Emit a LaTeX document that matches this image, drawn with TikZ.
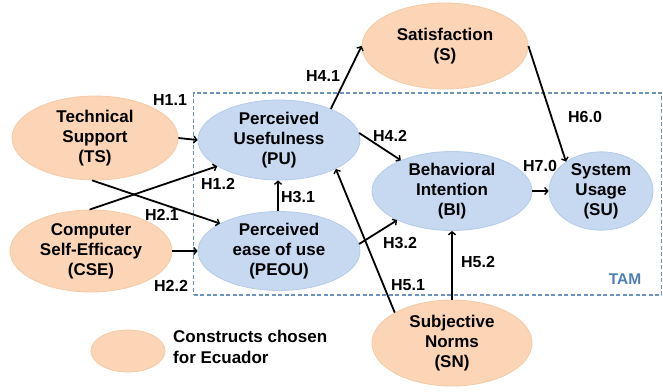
\documentclass[tikz,border=0pt]{standalone}
\usepackage{fontspec}
\setmainfont{Liberation Sans}
\usetikzlibrary{shapes.geometric,arrows.meta}
\definecolor{orangefill}{HTML}{FBD5B5}
\definecolor{orangeedge}{HTML}{F2CBA8}
\definecolor{bluefill}{HTML}{C6D9F1}
\definecolor{blueedge}{HTML}{B4CBE8}
\definecolor{tamblue}{HTML}{4F7FB8}
\definecolor{boxblue}{HTML}{6C92C2}
\tikzset{
  construct/.style={ellipse, inner sep=0pt, align=center,
    font=\fontsize{17}{20}\selectfont\bfseries, line width=0.8pt},
  orangenode/.style={construct, fill=orangefill, draw=orangeedge},
  bluenode/.style={construct, fill=bluefill, draw=blueedge},
  hlabel/.style={font=\fontsize{16}{18}\selectfont\bfseries, inner sep=0pt},
  conn/.style={line width=1.8pt, -{Straight Barb[length=3pt,width=7pt,line width=1.4pt]}}
}
\begin{document}
\begin{tikzpicture}[x=1pt,y=-1pt]
\useasboundingbox (0,0) rectangle (663,391);
\fill[white] (0,0) rectangle (663,391);
% TAM box
\node[draw=boxblue, dash pattern=on 4pt off 2.5pt, line width=1.1pt,
  inner sep=0pt, minimum width=468pt, minimum height=202pt] (tam) at (427.5,194) {};
\node[font=\fontsize{15.5}{18}\selectfont\bfseries, text=tamblue, inner sep=0pt] (tamlabel) at (625,279) {TAM};
% constructs
\node[orangenode, minimum width=166pt, minimum height=84pt] (TS) at (95,138) {Technical\\Support\\(TS)};
\node[orangenode, minimum width=162pt, minimum height=82pt] (CSE) at (91,251) {Computer\\Self-Efficacy\\(CSE)};
\node[bluenode, minimum width=162pt, minimum height=80pt] (PU) at (279,140) {Perceived\\Usefulness\\(PU)};
\node[bluenode, minimum width=162pt, minimum height=78pt] (PEOU) at (279,251) {Perceived\\ease of use\\(PEOU)};
\node[orangenode, minimum width=166pt, minimum height=86pt] (S) at (445,46) {Satisfaction\\(S)};
\node[bluenode, minimum width=160pt, minimum height=74pt] (BI) at (452,191) {Behavioral\\Intention\\(BI)};
\node[bluenode, minimum width=104pt, minimum height=68pt] (SU) at (601,191) {System\\Usage\\(SU)};
\node[orangenode, minimum width=160pt, minimum height=86pt] (SN) at (452,343) {Subjective\\Norms\\(SN)};
% legend
\node[orangenode, minimum width=74pt, minimum height=42pt] (legend) at (128,351) {};
\node[anchor=west, align=left, inner sep=0pt, font=\fontsize{17}{21}\selectfont\bfseries] (legendtext) at (173,347) {Constructs chosen\\for Ecuador};
% connectors
\draw[conn] (TS.east) -- (PU.west);
\draw[conn] (CSE.92) -- (PU.203);
\draw[conn] (TS.266) -- (PEOU.155);
\draw[conn] (CSE.east) -- (PEOU.west);
\draw[conn] ([xshift=-1pt]PEOU.north) -- ([xshift=-1pt]PU.south);
\draw[conn] (PEOU.5) -- (BI.208);
\draw[conn] (PU.5) -- (BI.149);
\draw[conn] (PU.31) -- (S.west);
\draw[conn] (S.east) -- (SU.140);
\draw[conn] (BI.east) -- (SU.west);
\draw[conn] (SN.152) -- (PU.-27);
\draw[conn] (SN.north) -- (BI.south);
% labels
\node[hlabel] (h11) at (170,100) {H1.1};
\node[hlabel] (h12) at (218,184) {H1.2};
\node[hlabel] (h21) at (162,215) {H2.1};
\node[hlabel] (h22) at (171,286) {H2.2};
\node[hlabel] (h31) at (298,197) {H3.1};
\node[hlabel] (h32) at (400,243) {H3.2};
\node[hlabel] (h41) at (323,76) {H4.1};
\node[hlabel] (h42) at (390,136) {H4.2};
\node[hlabel] (h51) at (408,285) {H5.1};
\node[hlabel] (h52) at (478,262) {H5.2};
\node[hlabel] (h60) at (585,117) {H6.0};
\node[hlabel] (h70) at (540,166) {H7.0};
\end{tikzpicture}
\end{document}
